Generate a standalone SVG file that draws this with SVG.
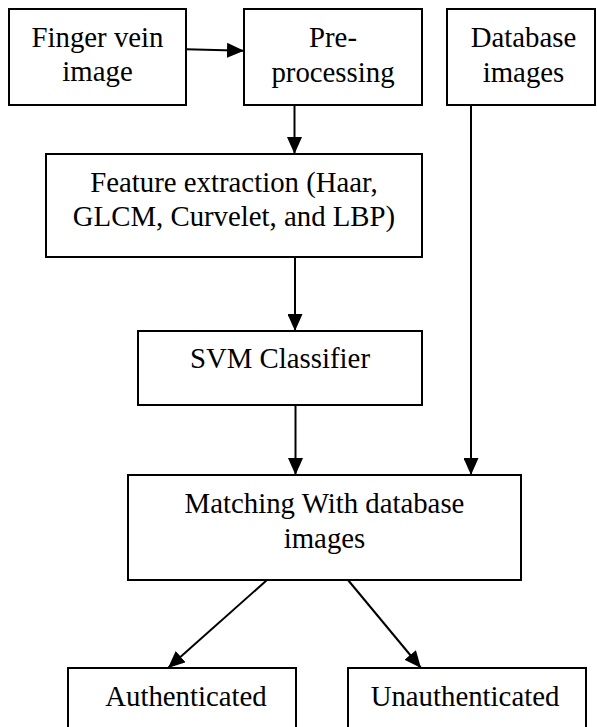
<svg xmlns="http://www.w3.org/2000/svg" width="597" height="727" viewBox="0 0 597 727" font-family="Liberation Serif, Times New Roman, serif">
  <style>
    .box { fill: #ffffff; stroke: #000000; stroke-width: 2; }
    .lbl { font-size: 28.8px; fill: #000000; text-anchor: middle; }
    .edge { fill: none; stroke: #000000; stroke-width: 2; marker-end: url(#arrow); }
  </style>
  <defs>
    <marker id="arrow" markerUnits="userSpaceOnUse" markerWidth="17" markerHeight="15" refX="17" refY="7.5" orient="auto">
      <path d="M0,0 L17,7.5 L0,15 z" fill="#000000"/>
    </marker>
  </defs>
  <rect width="597" height="727" fill="#ffffff"/>

  <g id="finger-vein-image">
    <rect class="box" x="9" y="9" width="177" height="96"/>
    <text class="lbl" x="97.5" y="47">Finger vein</text>
    <text class="lbl" x="97.5" y="81">image</text>
  </g>

  <g id="pre-processing">
    <rect class="box" x="244" y="9" width="178" height="96"/>
    <text class="lbl" x="333" y="47">Pre-</text>
    <text class="lbl" x="333" y="81.5">processing</text>
  </g>

  <g id="database-images">
    <rect class="box" x="447" y="9" width="148" height="96"/>
    <text class="lbl" x="523.5" y="47">Database</text>
    <text class="lbl" x="523.5" y="81.5">images</text>
  </g>

  <g id="feature-extraction">
    <rect class="box" x="46" y="154" width="376" height="103"/>
    <text class="lbl" x="234" y="191.5">Feature extraction (Haar,</text>
    <text class="lbl" x="234" y="226">GLCM, Curvelet, and LBP)</text>
  </g>

  <g id="svm-classifier">
    <rect class="box" x="138" y="331" width="284" height="74"/>
    <text class="lbl" x="280" y="368">SVM Classifier</text>
  </g>

  <g id="matching">
    <rect class="box" x="128" y="475" width="393" height="105"/>
    <text class="lbl" x="324.5" y="513">Matching With database</text>
    <text class="lbl" x="324.5" y="548">images</text>
  </g>

  <g id="authenticated">
    <rect class="box" x="68" y="668" width="228" height="80"/>
    <text class="lbl" x="186" y="705.5">Authenticated</text>
  </g>

  <g id="unauthenticated">
    <rect class="box" x="348" y="668" width="238" height="80"/>
    <text class="lbl" x="465" y="705.5">Unauthenticated</text>
  </g>

  <g id="connectors">
    <line class="edge" x1="186" y1="49.3" x2="244" y2="50.7"/>
    <line class="edge" x1="294.5" y1="105" x2="294.5" y2="154"/>
    <line class="edge" x1="295" y1="257" x2="295" y2="331"/>
    <line class="edge" x1="295.5" y1="405" x2="295.5" y2="475"/>
    <line class="edge" x1="471" y1="105" x2="471" y2="475"/>
    <line class="edge" x1="267" y1="580" x2="168" y2="668"/>
    <line class="edge" x1="348" y1="580" x2="421" y2="668"/>
  </g>
</svg>
